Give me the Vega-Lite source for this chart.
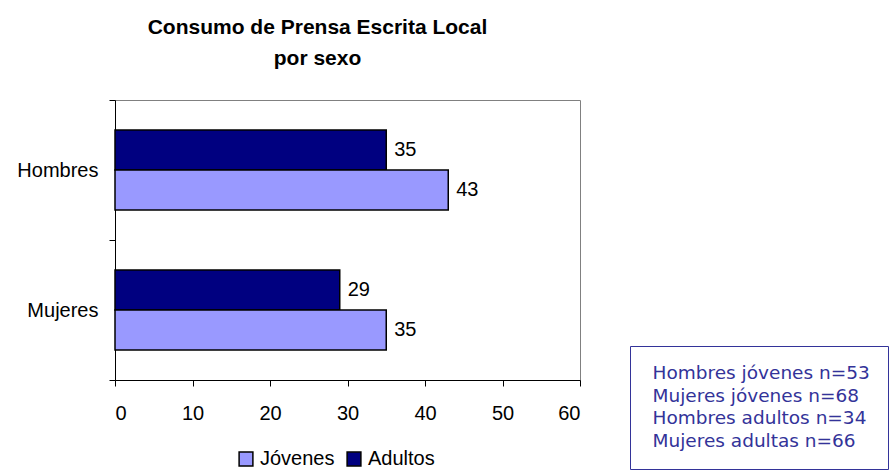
{
  "$schema": "https://vega.github.io/schema/vega-lite/v6.json",
  "width": 465,
  "height": 280,
  "autosize": {"type": "none"},
  "padding": {"left": 115, "top": 100, "right": 309, "bottom": 90},
  "background": "white",
  "config": {
    "view": {"stroke": "#808080", "strokeWidth": 1},
    "font": "Liberation Sans"
  },
  "title": {
    "text": ["Consumo de Prensa Escrita Local", "por sexo"],
    "font": "Liberation Sans",
    "fontSize": 21,
    "fontWeight": "bold",
    "color": "black",
    "anchor": "middle",
    "dx": -30,
    "offset": 21,
    "lineHeight": 31
  },
  "datasets": {
    "bars": [
      {"sexo": "Hombres", "grupo": "Adultos", "valor": 35},
      {"sexo": "Hombres", "grupo": "Jóvenes", "valor": 43},
      {"sexo": "Mujeres", "grupo": "Adultos", "valor": 29},
      {"sexo": "Mujeres", "grupo": "Jóvenes", "valor": 35}
    ],
    "notas": [
      {"nota": "Hombres jóvenes n=53"},
      {"nota": "Mujeres jóvenes n=68"},
      {"nota": "Hombres adultos n=34"},
      {"nota": "Mujeres adultas n=66"}
    ]
  },
  "layer": [
    {
      "data": {"name": "bars"},
      "mark": {"type": "bar", "stroke": "black", "strokeWidth": 1.5},
      "encoding": {
        "y": {
          "field": "sexo", "type": "nominal", "sort": ["Hombres", "Mujeres"],
          "scale": {"paddingInner": 0, "paddingOuter": 0},
          "axis": {
            "title": null, "tickBand": "extent", "labelFont": "Liberation Sans",
            "labelFontSize": 20, "labelColor": "black", "labelPadding": 11,
            "tickSize": 6, "tickColor": "black", "domainColor": "black"
          }
        },
        "yOffset": {
          "field": "grupo", "type": "nominal", "sort": ["Adultos", "Jóvenes"],
          "scale": {"paddingInner": 0, "paddingOuter": 0.75}
        },
        "x": {
          "field": "valor", "type": "quantitative",
          "scale": {"domain": [0, 60], "nice": false},
          "axis": {
            "title": null, "values": [0, 10, 20, 30, 40, 50, 60], "grid": false,
            "labelFont": "Liberation Sans", "labelFontSize": 20, "labelColor": "black",
            "labelPadding": 17, "tickSize": 6, "tickColor": "black", "domainColor": "black"
          }
        },
        "color": {
          "field": "grupo", "type": "nominal",
          "scale": {"domain": ["Jóvenes", "Adultos"], "range": ["#9999FF", "#000080"]},
          "legend": {
            "title": null, "orient": "none", "legendX": 121, "legendY": 349,
            "direction": "horizontal", "symbolType": "square", "symbolSize": 190,
            "symbolStrokeColor": "black", "symbolStrokeWidth": 1.5,
            "labelFont": "Liberation Sans", "labelFontSize": 20, "labelColor": "black",
            "labelOffset": 4, "columnPadding": 9, "padding": 0
          }
        }
      }
    },
    {
      "data": {"name": "bars"},
      "mark": {"type": "text", "align": "left", "baseline": "middle", "dx": 8, "fontSize": 20, "font": "Liberation Sans", "color": "black"},
      "encoding": {
        "y": {"field": "sexo", "type": "nominal", "sort": ["Hombres", "Mujeres"]},
        "yOffset": {"field": "grupo", "type": "nominal", "sort": ["Adultos", "Jóvenes"]},
        "x": {"field": "valor", "type": "quantitative"},
        "text": {"field": "valor", "type": "quantitative"}
      }
    },
    {
      "data": {"name": "notas"},
      "mark": {"type": "point", "opacity": 0},
      "encoding": {
        "shape": {
          "field": "nota", "type": "nominal",
          "scale": {"domain": ["Hombres jóvenes n=53", "Mujeres jóvenes n=68", "Hombres adultos n=34", "Mujeres adultas n=66"]},
          "legend": {
            "title": null, "orient": "none", "legendX": 515, "legendY": 246,
            "strokeColor": "#333399", "fillColor": "white", "padding": 18,
            "symbolSize": 0, "symbolOpacity": 0, "symbolStrokeWidth": 0,
            "labelFont": "DejaVu Sans", "labelFontSize": 18.5, "labelColor": "#333399",
            "labelOffset": -14, "rowPadding": 3.5, "labelLimit": 400
          }
        }
      }
    }
  ]
}
